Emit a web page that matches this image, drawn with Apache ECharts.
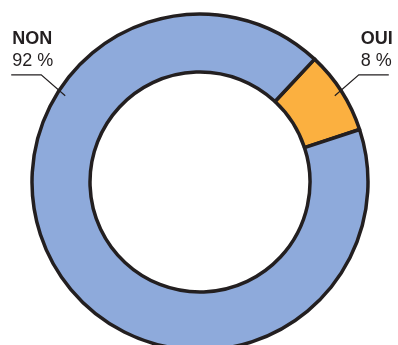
<!DOCTYPE html>
<html>
<head>
<meta charset="utf-8">
<script src="https://cdn.jsdelivr.net/npm/echarts@6/dist/echarts.min.js"></script>
<style>
  html, body { margin: 0; padding: 0; background: #ffffff; }
  #chart { width: 398px; height: 345px; }
</style>
</head>
<body>
<div id="chart"></div>
<script>
// Answer shares, in percent
const categories = ['OUI', 'NON'];
const shares = [8, 92];
const colors = ['#FBB040', '#8EAADB'];

// Ring geometry (pixels)
const CX = 200, CY = 182;
const R_IN = 110, R_OUT = 168;
const START_DEG = 43;        // first slice starts this far clockwise from 12 o'clock
const ANCHOR_R = 160;        // where leader lines end inside the ring
const ELBOW_DX = 24, ELBOW_DY = 21, TAIL = 30;

const total = shares.reduce((a, b) => a + b, 0);
// Mid angle of the first slice, mirrored for the second one
const firstMid = START_DEG + shares[0] / total * 180;
const anchorAngles = [firstMid, -firstMid];

// Leader line geometry for each label
function leader(i) {
  const a = anchorAngles[i] * Math.PI / 180;
  const ax = CX + ANCHOR_R * Math.sin(a);
  const ay = CY - ANCHOR_R * Math.cos(a);
  const side = Math.sin(a) >= 0 ? 1 : -1;
  const ex = ax + side * ELBOW_DX;
  const ey = ay - ELBOW_DY;
  const tx = ex + side * TAIL;
  return { side, points: [[ax, ay], [ex, ey], [tx, ey]] };
}

const chart = echarts.init(document.getElementById('chart'), null, { renderer: 'canvas' });

chart.setOption({
  animation: false,
  series: [{
    type: 'pie',
    center: [CX, CY],
    radius: [R_IN, R_OUT],
    startAngle: 90 - START_DEG,
    clockwise: true,
    avoidLabelOverlap: false,
    silent: true,
    data: categories.map((name, i) => ({
      name: name,
      value: shares[i],
      itemStyle: { color: colors[i] }
    })),
    itemStyle: { borderColor: '#231f20', borderWidth: 3.5 },
    label: {
      show: true,
      position: 'outside',
      fontFamily: 'Liberation Sans',
      fontSize: 18,
      color: '#231f20',
      formatter: p => '{n|' + p.name + '}\n{p|' + p.value + ' %}',
      rich: {
        n: { fontFamily: 'Liberation Sans', fontSize: 18, fontWeight: 'bold', color: '#231f20', lineHeight: 22 },
        p: { fontFamily: 'Liberation Sans', fontSize: 18, color: '#231f20', lineHeight: 22 }
      }
    },
    labelLine: { show: false },
    labelLayout: function (params) {
      const l = leader(params.dataIndex);
      const [, elbow, tail] = l.points;
      return {
        x: l.side > 0 ? elbow[0] + 2 : tail[0] + 1,
        y: elbow[1] - 3,
        align: 'left',
        verticalAlign: 'bottom'
      };
    }
  }],
  // Leader lines drawn on top of the ring
  graphic: categories.map((name, i) => ({
    type: 'polyline',
    z: 100,
    silent: true,
    shape: { points: leader(i).points },
    style: { stroke: '#231f20', lineWidth: 1.2, fill: null }
  }))
});
</script>
</body>
</html>
